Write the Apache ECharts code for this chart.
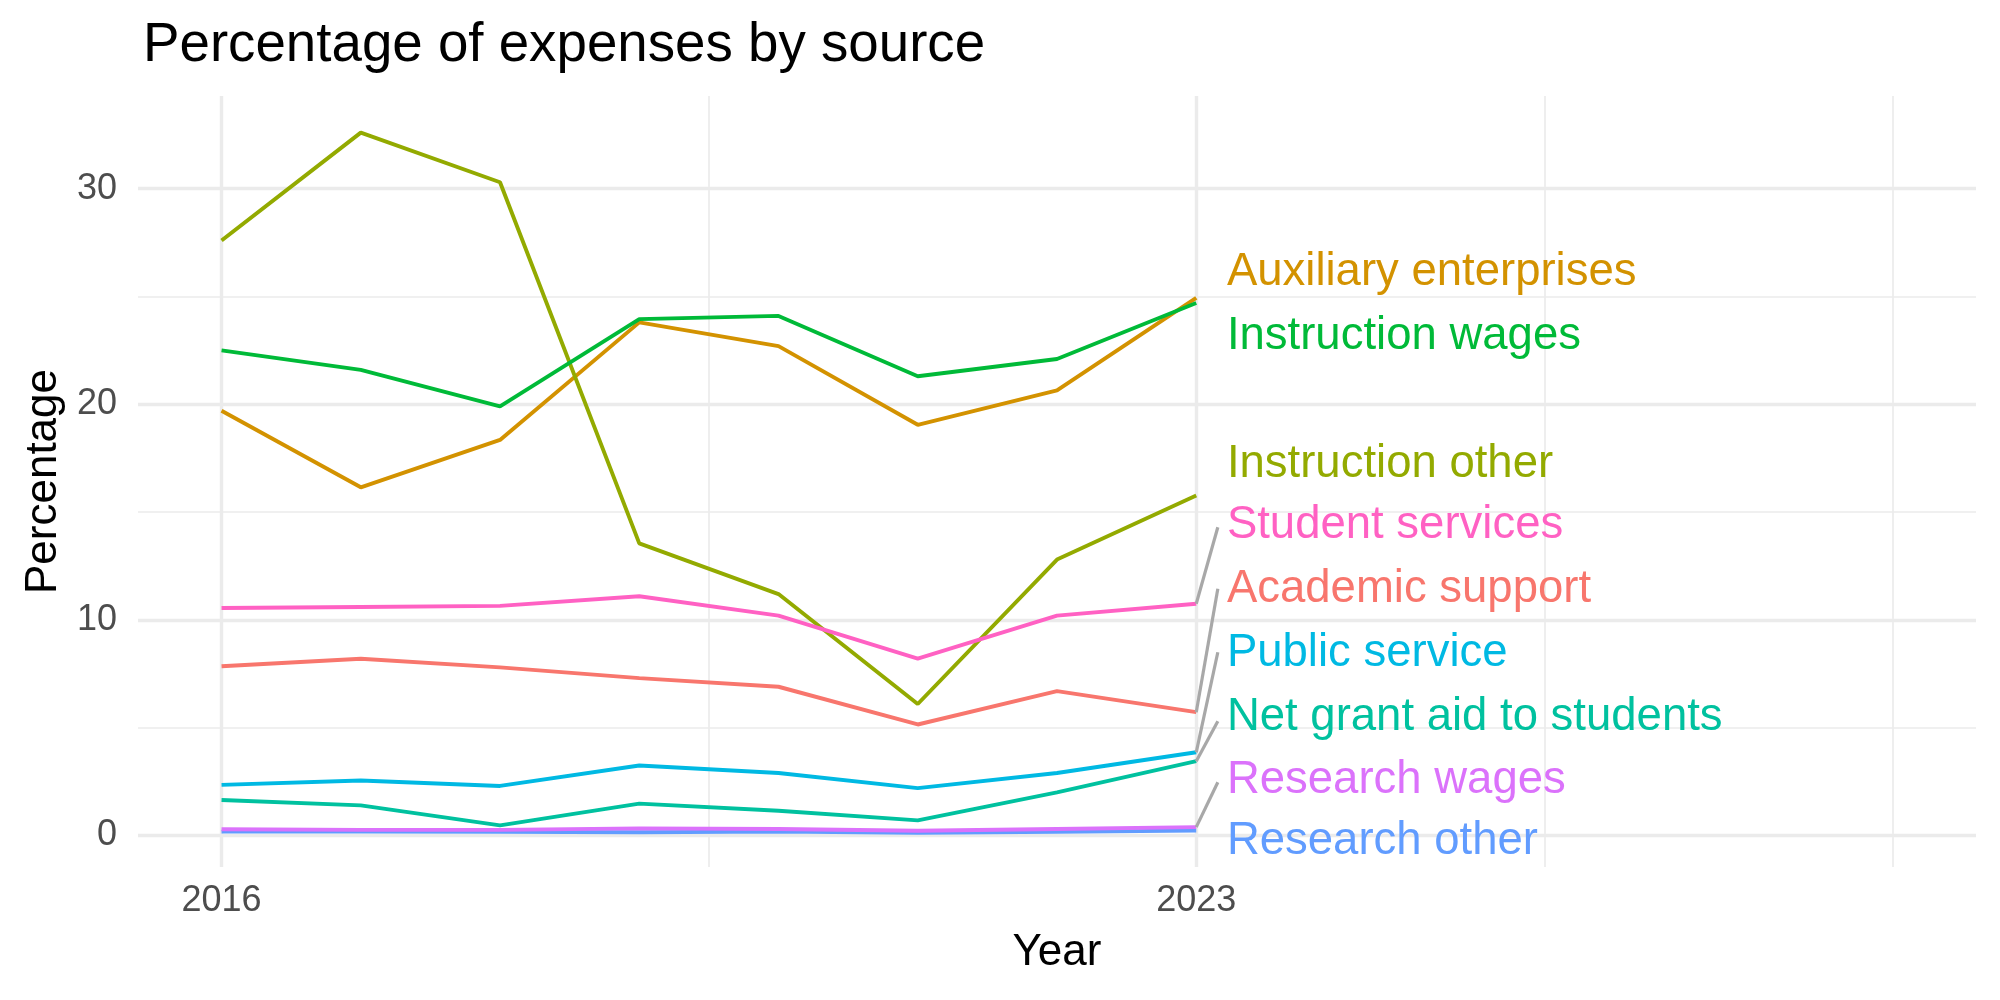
<!DOCTYPE html>
<html>
<head>
<meta charset="utf-8">
<title>Percentage of expenses by source</title>
<script src="https://cdn.jsdelivr.net/npm/echarts@6/dist/echarts.min.js"></script>
<style>
  html, body { margin: 0; padding: 0; background: #fff; }
  #chart { width: 2000px; height: 1000px; }
</style>
</head>
<body>
<div id="chart"></div>
<script>
// years on the x axis
const years = [2016, 2017, 2018, 2019, 2020, 2021, 2022, 2023]

// one array per expense source (percent)
const academicSupport = [7.85, 8.2, 7.8, 7.3, 6.9, 5.15, 6.7, 5.72]
const auxiliaryEnterprises = [19.7, 16.15, 18.35, 23.8, 22.7, 19.05, 20.65, 24.94]
const instructionOther = [27.6, 32.6, 30.3, 13.55, 11.2, 6.1, 12.8, 15.77]
const instructionWages = [22.5, 21.6, 19.9, 23.95, 24.1, 21.3, 22.1, 24.7]
const netGrantAid = [1.65, 1.4, 0.47, 1.48, 1.15, 0.7, 2.0, 3.45]
const publicService = [2.35, 2.55, 2.3, 3.25, 2.9, 2.2, 2.9, 3.86]
const researchOther = [0.18, 0.18, 0.17, 0.15, 0.18, 0.13, 0.17, 0.23]
const researchWages = [0.29, 0.26, 0.26, 0.33, 0.3, 0.22, 0.3, 0.39]
const studentServices = [10.55, 10.6, 10.65, 11.1, 10.2, 8.2, 10.2, 10.75]

const sourceNames = [
  'Academic support', 'Auxiliary enterprises', 'Instruction other',
  'Instruction wages', 'Net grant aid to students', 'Public service',
  'Research other', 'Research wages', 'Student services'
]
const sourceValues = [
  academicSupport, auxiliaryEnterprises, instructionOther,
  instructionWages, netGrantAid, publicService,
  researchOther, researchWages, studentServices
]
const sourceColors = [
  '#F8766D', '#D39200', '#93AA00', '#00BA38', '#00C19F',
  '#00B9E3', '#619CFF', '#DB72FB', '#FF61C3'
]

// repelled end labels: where the text sits (y, percent) and where its leader line ends
const labelY = [11.42, 26.12, 17.22, 23.16, 5.49, 8.44, -0.26, 2.56, 14.37]
const segmentEndY = [11.45, null, null, null, 5.3, 8.5, null, 2.47, 14.3]
const labelX = 2023.22
const segmentEndX = 2023.155

// axis breaks
const yMajorBreaks = [0, 10, 20, 30]
const yMinorBreaks = [5, 15, 25]
const xMajorBreaks = [2016, 2023]
const xMinorBreaks = [2019.5, 2025.5, 2028]

const chart = echarts.init(document.getElementById('chart'), null, { renderer: 'canvas' })

const FONT = 'Liberation Sans, Arial, Helvetica, sans-serif'
const GRID_COLOR = '#EBEBEB'

const gridLines = {
  type: 'line',
  data: [],
  silent: true,
  z: 0,
  markLine: {
    silent: true,
    symbol: 'none',
    z: 0,
    label: { show: false },
    animation: false,
    data: [
      ...yMajorBreaks.map(v => ({ yAxis: v, lineStyle: { color: GRID_COLOR, width: 3.4, type: 'solid' } })),
      ...yMinorBreaks.map(v => ({ yAxis: v, lineStyle: { color: GRID_COLOR, width: 1.7, type: 'solid' } })),
      ...xMajorBreaks.map(v => ({ xAxis: v, lineStyle: { color: GRID_COLOR, width: 3.4, type: 'solid' } })),
      ...xMinorBreaks.map(v => ({ xAxis: v, lineStyle: { color: GRID_COLOR, width: 1.7, type: 'solid' } }))
    ]
  }
}

const lineSeries = sourceNames.map((name, i) => ({
  name,
  type: 'line',
  data: years.map((y, j) => [y, sourceValues[i][j]]),
  symbol: 'none',
  z: 2,
  lineStyle: { color: sourceColors[i], width: 3.9 },
  itemStyle: { color: sourceColors[i] },
  animation: false
}))

const segments = {
  type: 'lines',
  coordinateSystem: 'cartesian2d',
  z: 3,
  silent: true,
  animation: false,
  lineStyle: { color: '#A8A8A8', width: 3.2, opacity: 1 },
  data: sourceNames
    .map((name, i) => segmentEndY[i] == null ? null : {
      coords: [[2023, sourceValues[i][7]], [segmentEndX, segmentEndY[i]]]
    })
    .filter(d => d)
}

const endLabels = {
  type: 'scatter',
  symbolSize: 0,
  z: 4,
  silent: true,
  animation: false,
  itemStyle: { opacity: 1 },
  data: sourceNames.map((name, i) => ({
    value: [labelX, labelY[i]],
    itemStyle: { opacity: 1 },
    label: {
      show: true,
      position: 'right',
      distance: 0,
      formatter: name,
      color: sourceColors[i],
      fontSize: 45.5,
      fontFamily: FONT,
      align: 'left',
      verticalAlign: 'middle',
      textBorderWidth: 0,
      opacity: 1
    }
  }))
}

const option = {
  backgroundColor: '#ffffff',
  animation: false,
  title: {
    text: 'Percentage of expenses by source',
    left: 138,
    top: 13,
    textStyle: { fontSize: 54.7, fontWeight: 'normal', color: '#000', fontFamily: FONT }
  },
  grid: { left: 138, right: 24, top: 96, bottom: 133 },
  xAxis: {
    type: 'value',
    min: 2015.4,
    max: 2028.6,
    name: 'Year',
    nameLocation: 'middle',
    nameGap: 64,
    nameTextStyle: { fontSize: 44, color: '#000', fontFamily: FONT },
    axisLine: { show: false },
    axisTick: { show: false },
    splitLine: { show: false },
    axisLabel: {
      customValues: xMajorBreaks,
      formatter: v => String(v),
      fontSize: 36,
      color: '#4D4D4D',
      fontFamily: FONT,
      margin: 16
    }
  },
  yAxis: {
    type: 'value',
    min: -1.46,
    max: 34.3,
    name: 'Percentage',
    nameLocation: 'middle',
    nameGap: 72,
    nameRotate: 90,
    nameTextStyle: { fontSize: 44, color: '#000', fontFamily: FONT },
    axisLine: { show: false },
    axisTick: { show: false },
    splitLine: { show: false },
    axisLabel: {
      customValues: yMajorBreaks,
      formatter: v => String(v),
      fontSize: 36,
      color: '#4D4D4D',
      fontFamily: FONT,
      margin: 21
    }
  },
  series: [gridLines, ...lineSeries, segments, endLabels]
}

chart.setOption(option)
</script>
</body>
</html>
